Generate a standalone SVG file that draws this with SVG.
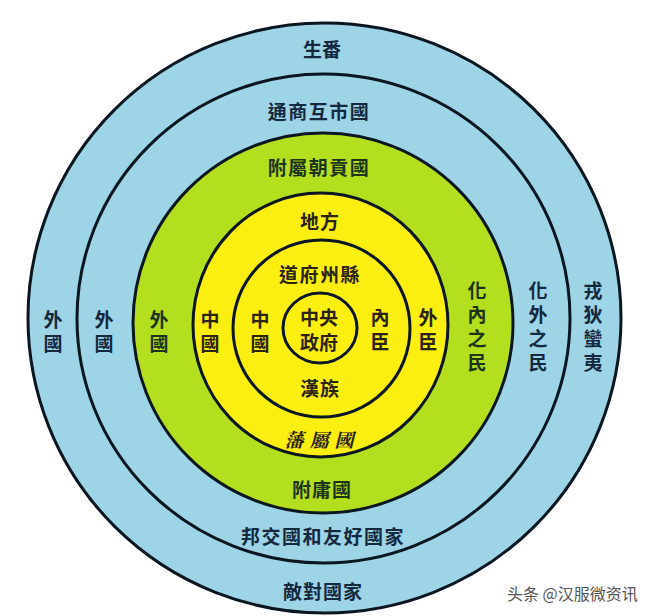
<svg xmlns="http://www.w3.org/2000/svg" width="659" height="616" viewBox="0 0 659 616">
<style>
.ring{stroke:#0b1620;stroke-width:3}
.blue{fill:#9dd4e6}
.green{fill:#b3df1f}
.yellow{fill:#fbef12}
text{font-family:"Noto Sans CJK TC","Noto Sans CJK SC",sans-serif;font-size:19px;font-weight:700;text-anchor:middle;dominant-baseline:central}
.v{writing-mode:vertical-rl;text-orientation:upright;letter-spacing:5px}
.tb{fill:#14283e}
.tg{fill:#1c3418}
.ty{fill:#2a2410}
.wm{font-family:"Noto Sans CJK SC",sans-serif;font-weight:400;font-size:16px;fill:#555;text-anchor:start}
</style>
<rect width="659" height="616" fill="#ffffff"/>
<g id="ring-outer">
<ellipse class="ring blue" cx="324.5" cy="318" rx="296.5" ry="295"/>
<text class="tb" x="322" y="48">生番</text>
<text class="tb" x="323" y="590" letter-spacing="1">敵對國家</text>
<text class="tb v" x="53" y="334">外國</text>
<text class="tb v" x="593" y="329">戎狄蠻夷</text>
</g>
<g id="ring-second">
<ellipse class="ring blue" cx="323.5" cy="318.5" rx="246.5" ry="244.5"/>
<text class="tb" x="319" y="110" letter-spacing="1.5">通商互市國</text>
<text class="tb" x="323" y="535" letter-spacing="1.5">邦交國和友好國家</text>
<text class="tb v" x="104" y="334">外國</text>
<text class="tb v" x="538" y="329">化外之民</text>
</g>
<g id="ring-green">
<ellipse class="ring green" cx="323" cy="323" rx="190" ry="190"/>
<text class="tg" x="319" y="166" letter-spacing="1.5">附屬朝貢國</text>
<text class="tg" x="322" y="488" letter-spacing="1">附庸國</text>
<text class="tg v" x="159" y="334">外國</text>
<text class="tg v" x="477" y="329">化內之民</text>
</g>
<g id="ring-yellow">
<ellipse class="ring yellow" cx="320.5" cy="325" rx="127.5" ry="132"/>
<text class="ty" x="320" y="220" letter-spacing="1">地方</text>
<text class="ty" x="322" y="438" letter-spacing="6" font-style="italic" font-weight="900" style="font-family:'Noto Serif CJK TC','Noto Sans CJK TC',serif">藩屬國</text>
<text class="ty v" x="210" y="334">中國</text>
<text class="ty v" x="428" y="332">外臣</text>
</g>
<g id="ring-fourth">
<ellipse class="ring yellow" cx="321.5" cy="328.5" rx="88.5" ry="88.5"/>
<text class="ty" x="320" y="273" letter-spacing="1.5">道府州縣</text>
<text class="ty" x="320" y="387" letter-spacing="1">漢族</text>
<text class="ty v" x="260" y="334">中國</text>
<text class="ty v" x="380" y="332">內臣</text>
</g>
<g id="ring-center">
<ellipse class="ring yellow" cx="320" cy="328" rx="37" ry="35"/>
<text class="ty" x="319" y="316">中央</text>
<text class="ty" x="319" y="341">政府</text>
</g>
<g id="watermark">
<text class="wm" x="507" y="593">头条 @汉服微资讯</text>
</g>
</svg>
